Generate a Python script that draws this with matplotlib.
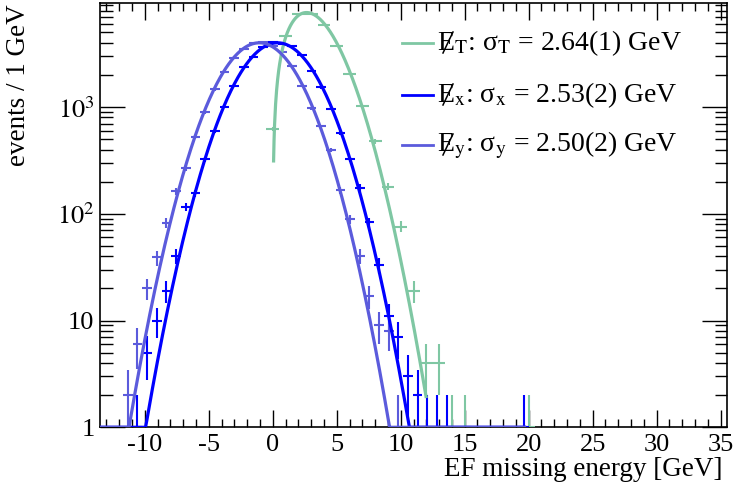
import numpy as np
import matplotlib
matplotlib.use("Agg")
import matplotlib.pyplot as plt
import matplotlib.ticker as mticker

# ---- data ------------------------------------------------------------------
# E_T histogram: 1 GeV bins centred on integers
et_centers = [0, 1, 2, 3, 4, 5, 6, 7, 8, 9, 10, 11, 12, 13, 14, 15, 20]
et_counts  = [620, 4590, 7500, 7500, 5900, 3700, 2040, 1013, 476, 179,
              76, 19, 4, 4, 1, 1, 1]

# E_x / E_y histograms share a finer binning (bin index k -> k * XY_WIDTH)
XY_WIDTH = 0.755
ex_bins   = [-14, -13, -12, -11, -10, -9, -8, -7, -6, -5, -4, -3, -2, -1, 0,
             1, 2, 3, 4, 5, 6, 7, 8, 9, 10, 11, 12, 13, 14, 15, 16, 17, 18, 26]
ex_counts = [1, 5, 10, 19, 40, 116, 156, 325, 600, 1010, 1585, 2370, 2945,
             3650, 4035, 3920, 3700, 3090, 2160, 1530, 965, 570, 325, 175,
             83, 33, 11, 7, 3, 2, 1, 1, 1, 1]

ey_bins   = [-15, -14, -13, -12, -11, -10, -9, -8, -7, -6, -5, -4, -3, -2, -1,
             0, 1, 2, 3, 4, 5, 6, 7, 8, 9, 10, 11, 12, 13]
ey_counts = [2, 6, 20, 39, 82, 163, 268, 527, 895, 1465, 2145, 2880, 3470,
             3985, 4035, 3700, 3250, 2430, 1570, 970, 658, 398, 166, 89, 40,
             17, 9, 8, 1]

# fit results
et_sigma, et_norm = 2.64, 4800.0
ex_sigma, ex_mean, ex_amp = 2.53, 0.37, 4000.0
ey_sigma, ey_mean, ey_amp = 2.50, -1.05, 4000.0

legend_subs = ["T", "x", "y"]
legend_vals = ["2.64(1)", "2.53(2)", "2.50(2)"]

C_T = "#7fc7a3"
C_X = "#0000ff"
C_Y = "#5b5bdc"

YMIN, YMAX = 1.0, 9500.0
XMIN, XMAX = -13.5, 35.5

W, H = 734, 500

plt.rcParams.update({
    "font.family": ["Liberation Serif", "DejaVu Serif"],
    "mathtext.fontset": "stix",
    "font.size": 18,
})

fig = plt.figure(figsize=(W / 100, H / 100), dpi=100)
ax = fig.add_axes([100 / W, 1 - 427.3 / H, 627 / W, 424.6 / H])
ax.set_yscale("log")


def draw_hist(x, n, width, color, lw=1.5):
    x = np.asarray(x, float)
    n = np.asarray(n, float)
    err = np.sqrt(n)
    lo = np.maximum(n - err, 0.3)
    ax.errorbar(x, n, xerr=width / 2, yerr=[n - lo, err], fmt="none",
                ecolor=color, elinewidth=lw, capsize=0, zorder=3)


def draw_curve(xs, ys, color, lw=2.3):
    ax.plot(xs, np.clip(ys, YMIN, None), color=color, lw=lw,
            solid_capstyle="butt", zorder=4)


# E_T
draw_hist(et_centers, et_counts, 1.0, C_T)
xt = np.linspace(0.063, 12.0, 300)
draw_curve(xt, et_norm * xt * np.exp(-xt**2 / (2 * et_sigma**2)), C_T)

# E_x
draw_hist(np.array(ex_bins) * XY_WIDTH, ex_counts, XY_WIDTH, C_X)
xg = np.linspace(XMIN, 19.8, 600)
draw_curve(xg, ex_amp * np.exp(-(xg - ex_mean)**2 / (2 * ex_sigma**2)), C_X)

# E_y
draw_hist(np.array(ey_bins) * XY_WIDTH, ey_counts, XY_WIDTH, C_Y)
draw_curve(xg, ey_amp * np.exp(-(xg - ey_mean)**2 / (2 * ey_sigma**2)), C_Y)

ax.set_xlim(XMIN, XMAX)
ax.set_ylim(YMIN, YMAX)

# ---- axes styling (ROOT look) ----------------------------------------------
ax.xaxis.set_major_locator(mticker.MultipleLocator(5))
ax.xaxis.set_minor_locator(mticker.MultipleLocator(1))
ax.xaxis.set_major_formatter(mticker.FuncFormatter(lambda v, _: f"{v:.0f}"))
ax.yaxis.set_major_locator(mticker.LogLocator(base=10))
ax.yaxis.set_minor_locator(mticker.LogLocator(base=10, subs=np.arange(2, 10)))
ax.yaxis.set_minor_formatter(mticker.NullFormatter())
ylabels = {1: "1", 10: "10", 100: r"$10^{2}$", 1000: r"$10^{3}$"}
ax.yaxis.set_major_formatter(
    mticker.FuncFormatter(lambda v, _: ylabels.get(int(round(v)), "")))

ax.tick_params(which="both", direction="in", top=True, right=True,
               width=1.0, labelsize=19)
ax.tick_params(axis="x", which="major", length=12, pad=5)
ax.tick_params(axis="x", which="minor", length=6)
ax.tick_params(axis="y", which="major", length=18, pad=4)
ax.tick_params(axis="y", which="minor", length=9)
for s in ax.spines.values():
    s.set_linewidth(1.2)

fig.text(722 / W, 1 - 470 / H, "EF missing energy [GeV]", fontsize=19.5,
         ha="right", va="center")
fig.text(19 / W, 1 - 4 / H, "events / 1 GeV", fontsize=19.5, rotation=90,
         ha="center", va="top")

# ---- legend (drawn by hand so the slashed E looks right) -------------------
leg_y = [43, 95, 145]
for yy, c, sub, val in zip(leg_y, (C_T, C_X, C_Y), legend_subs, legend_vals):
    fy = 1 - yy / H
    fig.add_artist(plt.Line2D([402 / W, 433 / W], [fy, fy], color=c, lw=2,
                              transform=fig.transFigure))
    fig.text(437 / W, fy, rf"E$_{{\mathrm{{{sub}}}}}$: "
             rf"σ$_{{\mathrm{{{sub}}}}}$ = {val} GeV",
             fontsize=20, ha="left", va="center")
    # slash through the E
    fig.add_artist(plt.Line2D([443 / W, 453 / W],
                              [1 - (yy + 10) / H, 1 - (yy - 11) / H],
                              color="black", lw=1.1,
                              transform=fig.transFigure))

fig.savefig("out.png", dpi=100)
